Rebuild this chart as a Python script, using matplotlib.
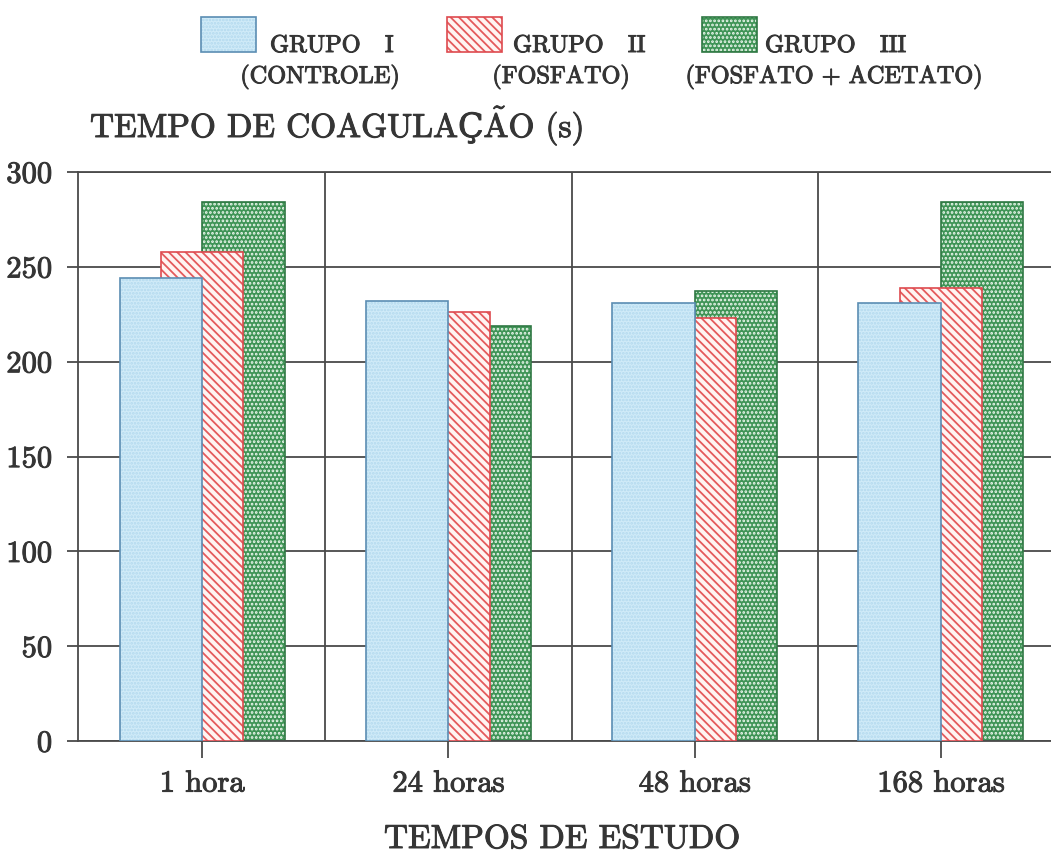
import numpy as np
import matplotlib
matplotlib.use("Agg")
import matplotlib.pyplot as plt
import matplotlib.patheffects as pe
from matplotlib.patches import Rectangle

plt.rcParams['font.family'] = ['cmr10', 'DejaVu Serif']
plt.rcParams['mathtext.fontset'] = 'cm'
plt.rcParams['axes.formatter.use_mathtext'] = True
plt.rcParams['hatch.linewidth'] = 1.3

# data
tempos = ["1 hora", "24 horas", "48 horas", "168 horas"]
grupos = ["GRUPO   I", "GRUPO   II", "GRUPO   III"]
subtitulos = ["(CONTROLE)", "(FOSFATO)", "(FOSFATO + ACETATO)"]
grupo1 = [244, 232, 231, 231]
grupo2 = [258, 226, 223, 239]
grupo3 = [284, 219, 237, 284]
series = [grupo1, grupo2, grupo3]

# styles: face, hatch colour, hatch, edge
estilos = [
    dict(face="#d0ebf8", hc="#b2d9ee", hatch=".....", edge="#5b8db3"),
    dict(face="#fff4f2", hc="#e45a5c", hatch="\\\\\\\\", edge="#de4a4f"),
    dict(face="#3f9456", hc="#eef8ef", hatch="....", edge="#2f7843"),
]

txtc = "#353535"
negrito = [pe.withStroke(linewidth=0.7, foreground=txtc)]

W, H = 1051, 856
fig = plt.figure(figsize=(W/100, H/100), dpi=100)
ax = fig.add_axes([78/W, 115/H, 973/W, 569/H])

x = np.arange(len(tempos))
largura = 0.335
offsets = [-largura/2, 0, largura/2]

for i, (vals, st) in enumerate(zip(series, estilos)):
    z = 4 - i
    ax.bar(x + offsets[i], vals, largura, color=st["face"], edgecolor=st["hc"],
           linewidth=0, hatch=st["hatch"], zorder=z)
    ax.bar(x + offsets[i], vals, largura, fill=False, edgecolor=st["edge"],
           linewidth=1.2, zorder=z + 0.1)

gridc = "#4a4a4a"
ax.set_xlim(-0.504, 3.447)
ax.set_ylim(0, 300)
ax.set_yticks(np.arange(0, 301, 50))
ax.set_xticks(x, tempos)
ax.set_xticks([0.5, 1.5, 2.5], minor=True)
ax.grid(axis="y", which="major", color=gridc, linewidth=1.3, zorder=1)
ax.grid(axis="x", which="minor", color=gridc, linewidth=1.3, zorder=1)
ax.set_axisbelow(True)
ax.tick_params(axis="y", length=8, width=1.3, color=gridc, labelsize=22, pad=10)
ax.tick_params(axis="x", which="major", length=12, width=1.3, color=gridc,
               labelsize=22, pad=9)
ax.tick_params(axis="x", which="minor", length=0)
for s in ["left", "top", "bottom"]:
    ax.spines[s].set_color(gridc)
    ax.spines[s].set_linewidth(1.3)
ax.spines["right"].set_visible(False)
for lab in ax.get_xticklabels() + ax.get_yticklabels():
    lab.set_color(txtc)
    lab.set_path_effects(negrito)

# title in three pieces: cmr10 has no plain Ã, so that letter goes through mathtext
tx, ty = 90, 1 - 137/H
rend = fig.canvas.get_renderer()
larg = []
for pref in ["TEMPO DE COAGULAÇ", "TEMPO DE COAGULAÇA"]:
    t = fig.text(0, 0, pref, fontsize=24)
    larg.append(t.get_window_extent(rend).width)
    t.remove()
pecas = ["TEMPO DE COAGULAÇ", r"$\tilde{\mathrm{A}}$", "O (s)"]
for peca, dx in zip(pecas, [0, larg[0], larg[1]]):
    fig.text((tx + dx)/W, ty, peca, fontsize=24, va="baseline", ha="left",
             color=txtc, path_effects=negrito)

fig.text(562/W, 1 - 848/H, "TEMPOS DE ESTUDO", fontsize=24,
         va="baseline", ha="center", color=txtc, path_effects=negrito)

# legend drawn by hand (second line centred under the first)
caixas = [201, 447, 702]
texto1 = [270, 513, 765]
texto2 = [320, 561, 834]
for i, st in enumerate(estilos):
    r = Rectangle((caixas[i]/W, 1 - 52/H), 55/W, 35/H, transform=fig.transFigure,
                  facecolor=st["face"], edgecolor=st["hc"], linewidth=0,
                  hatch=st["hatch"])
    fig.add_artist(r)
    fig.add_artist(Rectangle((caixas[i]/W, 1 - 52/H), 55/W, 35/H,
                             transform=fig.transFigure, fill=False,
                             edgecolor=st["edge"], linewidth=1.2))
    fig.text(texto1[i]/W, 1 - 52/H, grupos[i], fontsize=17.5, va="baseline",
             ha="left", color=txtc, path_effects=negrito)
    fig.text(texto2[i]/W, 1 - 83/H, subtitulos[i], fontsize=17.5, va="baseline",
             ha="center", color=txtc, path_effects=negrito)

fig.savefig("out.png", dpi=100)
